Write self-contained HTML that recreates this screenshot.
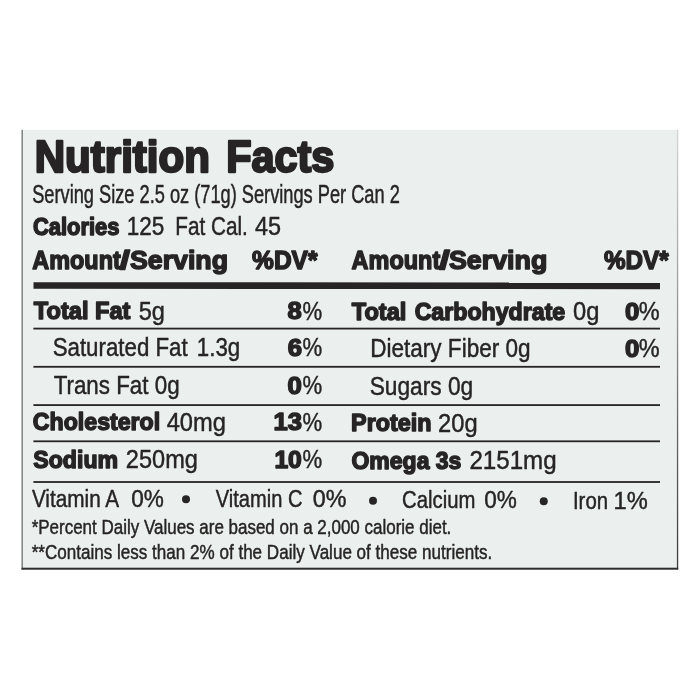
<!DOCTYPE html>
<html lang="en">
<head>
<meta charset="utf-8">
<title>Nutrition Facts</title>
<style>
html,body{margin:0;padding:0;background:#fff;}
body{width:700px;height:700px;overflow:hidden;position:relative;}
svg{position:absolute;left:0;top:0;display:block;}
text{font-family:"Liberation Sans",Arial,Helvetica,sans-serif;fill:#262424;stroke:#262424;stroke-linejoin:round;}
.b{font-weight:bold;}
</style>
</head>
<body>
<svg width="700" height="700" viewBox="0 0 700 700">
<defs><linearGradient id="rb" x1="0" y1="0" x2="0" y2="1"><stop offset="0" stop-color="#d2d5d3"/><stop offset="0.3" stop-color="#a6a8a7"/><stop offset="0.65" stop-color="#6a6a6a"/><stop offset="1" stop-color="#3a3939"/></linearGradient></defs>
<rect x="21.5" y="129.8" width="656.7" height="439.6" fill="#ebefed"/>
<rect x="21.5" y="129.8" width="1.4" height="439.6" fill="#7c7e7d"/>
<rect x="676.9" y="129.8" width="1.3" height="439.6" fill="url(#rb)"/>
<rect x="21.5" y="567.7" width="656.7" height="2" fill="#302e2e"/>
<polygon points="33.5,282.2 660,282.5 660,289.2 33.5,288.8" fill="#262424"/>
<rect x="33.4" y="327.70" width="626.6" height="1.8" fill="#262424"/>
<rect x="33.4" y="365.90" width="626.6" height="1.8" fill="#262424"/>
<rect x="33.4" y="404.20" width="626.6" height="1.8" fill="#262424"/>
<rect x="33.4" y="440.40" width="626.6" height="1.8" fill="#262424"/>
<rect x="33.4" y="481.10" width="626.6" height="1.8" fill="#262424"/>
<circle cx="186.00" cy="499.20" r="4" fill="#262424"/>
<circle cx="373.00" cy="500.70" r="4" fill="#262424"/>
<circle cx="543.75" cy="501.20" r="4" fill="#262424"/>
<text class="b" x="34.75" y="172.40" font-size="44.91" textLength="175.11" lengthAdjust="spacingAndGlyphs" stroke-width="2.40">Nutrition</text>
<text class="b" x="226.13" y="172.40" font-size="44.91" textLength="108.22" lengthAdjust="spacingAndGlyphs" stroke-width="2.40">Facts</text>
<text x="32.21" y="202.68" font-size="24.93" textLength="367.60" lengthAdjust="spacingAndGlyphs" stroke-width="0.45">Serving Size 2.5 oz (71g) Servings Per Can 2</text>
<text class="b" x="32.96" y="234.85" font-size="24.27" textLength="86.55" lengthAdjust="spacingAndGlyphs" stroke-width="1.50">Calories</text>
<text x="126.67" y="235.38" font-size="25.80" textLength="37.54" lengthAdjust="spacingAndGlyphs" stroke-width="0.45">125</text>
<text x="175.29" y="235.38" font-size="25.80" textLength="72.58" lengthAdjust="spacingAndGlyphs" stroke-width="0.45">Fat Cal.</text>
<text x="254.98" y="235.38" font-size="25.80" textLength="26.08" lengthAdjust="spacingAndGlyphs" stroke-width="0.45">45</text>
<text class="b" x="32.31" y="268.55" font-size="26.31" textLength="88.46" lengthAdjust="spacingAndGlyphs" stroke-width="1.50">Amount</text>
<text class="b" x="119.72" y="268.55" font-size="26.31" textLength="10.13" lengthAdjust="spacingAndGlyphs" stroke-width="1.50">/</text>
<text class="b" x="129.96" y="268.55" font-size="26.31" textLength="98.08" lengthAdjust="spacingAndGlyphs" stroke-width="1.50">Serving</text>
<text class="b" x="252.06" y="268.55" font-size="26.31" textLength="65.50" lengthAdjust="spacingAndGlyphs" stroke-width="1.50">%DV*</text>
<text class="b" x="351.61" y="269.15" font-size="26.31" textLength="88.65" lengthAdjust="spacingAndGlyphs" stroke-width="1.50">Amount</text>
<text class="b" x="439.33" y="269.15" font-size="26.31" textLength="10.50" lengthAdjust="spacingAndGlyphs" stroke-width="1.50">/</text>
<text class="b" x="448.97" y="269.15" font-size="26.31" textLength="98.34" lengthAdjust="spacingAndGlyphs" stroke-width="1.50">Serving</text>
<text class="b" x="603.89" y="269.45" font-size="26.31" textLength="64.81" lengthAdjust="spacingAndGlyphs" stroke-width="1.50">%DV*</text>
<text class="b" x="33.78" y="319.15" font-size="24.71" textLength="96.69" lengthAdjust="spacingAndGlyphs" stroke-width="1.50">Total Fat</text>
<text x="138.73" y="319.67" font-size="26.24" textLength="26.20" lengthAdjust="spacingAndGlyphs" stroke-width="0.45">5g</text>
<text class="b" x="287.64" y="319.15" font-size="24.71" textLength="14.23" lengthAdjust="spacingAndGlyphs" stroke-width="1.50">8</text>
<text x="302.38" y="319.67" font-size="26.24" textLength="19.70" lengthAdjust="spacingAndGlyphs" stroke-width="0.45">%</text>
<text x="52.69" y="356.47" font-size="26.24" textLength="134.95" lengthAdjust="spacingAndGlyphs" stroke-width="0.45">Saturated Fat</text>
<text x="196.78" y="356.47" font-size="26.24" textLength="43.43" lengthAdjust="spacingAndGlyphs" stroke-width="0.45">1.3g</text>
<text class="b" x="287.71" y="355.95" font-size="24.71" textLength="14.34" lengthAdjust="spacingAndGlyphs" stroke-width="1.50">6</text>
<text x="302.38" y="356.47" font-size="26.24" textLength="19.70" lengthAdjust="spacingAndGlyphs" stroke-width="0.45">%</text>
<text x="53.66" y="394.27" font-size="26.24" textLength="125.96" lengthAdjust="spacingAndGlyphs" stroke-width="0.45">Trans Fat 0g</text>
<text class="b" x="287.60" y="393.75" font-size="24.71" textLength="14.33" lengthAdjust="spacingAndGlyphs" stroke-width="1.50">0</text>
<text x="302.38" y="394.27" font-size="26.24" textLength="19.70" lengthAdjust="spacingAndGlyphs" stroke-width="0.45">%</text>
<text class="b" x="32.86" y="430.25" font-size="24.71" textLength="127.31" lengthAdjust="spacingAndGlyphs" stroke-width="1.50">Cholesterol</text>
<text x="166.63" y="430.77" font-size="26.24" textLength="59.23" lengthAdjust="spacingAndGlyphs" stroke-width="0.45">40mg</text>
<text class="b" x="273.61" y="430.25" font-size="24.71" textLength="28.46" lengthAdjust="spacingAndGlyphs" stroke-width="1.50">13</text>
<text x="302.38" y="430.77" font-size="26.24" textLength="19.70" lengthAdjust="spacingAndGlyphs" stroke-width="0.45">%</text>
<text class="b" x="33.33" y="467.55" font-size="24.71" textLength="84.71" lengthAdjust="spacingAndGlyphs" stroke-width="1.50">Sodium</text>
<text x="125.86" y="468.07" font-size="26.24" textLength="72.01" lengthAdjust="spacingAndGlyphs" stroke-width="0.45">250mg</text>
<text class="b" x="274.40" y="467.55" font-size="24.71" textLength="27.43" lengthAdjust="spacingAndGlyphs" stroke-width="1.50">10</text>
<text x="302.38" y="468.07" font-size="26.24" textLength="19.70" lengthAdjust="spacingAndGlyphs" stroke-width="0.45">%</text>
<text class="b" x="351.80" y="319.95" font-size="24.71" textLength="54.63" lengthAdjust="spacingAndGlyphs" stroke-width="1.50">Total</text>
<text class="b" x="414.63" y="319.95" font-size="24.71" textLength="150.62" lengthAdjust="spacingAndGlyphs" stroke-width="1.50">Carbohydrate</text>
<text x="573.02" y="320.47" font-size="26.24" textLength="26.33" lengthAdjust="spacingAndGlyphs" stroke-width="0.45">0g</text>
<text class="b" x="624.93" y="319.95" font-size="24.71" textLength="14.37" lengthAdjust="spacingAndGlyphs" stroke-width="1.50">0</text>
<text x="638.84" y="320.47" font-size="26.24" textLength="20.88" lengthAdjust="spacingAndGlyphs" stroke-width="0.45">%</text>
<text x="370.20" y="357.47" font-size="26.24" textLength="160.41" lengthAdjust="spacingAndGlyphs" stroke-width="0.45">Dietary Fiber 0g</text>
<text class="b" x="624.93" y="356.95" font-size="24.71" textLength="14.37" lengthAdjust="spacingAndGlyphs" stroke-width="1.50">0</text>
<text x="638.84" y="357.47" font-size="26.24" textLength="20.88" lengthAdjust="spacingAndGlyphs" stroke-width="0.45">%</text>
<text x="369.67" y="395.07" font-size="26.24" textLength="103.60" lengthAdjust="spacingAndGlyphs" stroke-width="0.45">Sugars 0g</text>
<text class="b" x="351.09" y="431.25" font-size="24.71" textLength="80.37" lengthAdjust="spacingAndGlyphs" stroke-width="1.50">Protein</text>
<text x="438.05" y="431.77" font-size="26.24" textLength="39.55" lengthAdjust="spacingAndGlyphs" stroke-width="0.45">20g</text>
<text class="b" x="351.49" y="468.85" font-size="24.71" textLength="109.92" lengthAdjust="spacingAndGlyphs" stroke-width="1.50">Omega 3s</text>
<text x="469.42" y="469.38" font-size="26.24" textLength="87.20" lengthAdjust="spacingAndGlyphs" stroke-width="0.45">2151mg</text>
<text x="31.90" y="507.17" font-size="24.06" textLength="87.31" lengthAdjust="spacingAndGlyphs" stroke-width="0.45">Vitamin A</text>
<text x="131.17" y="507.17" font-size="24.06" textLength="32.60" lengthAdjust="spacingAndGlyphs" stroke-width="0.45">0%</text>
<text x="215.73" y="507.47" font-size="24.06" textLength="86.71" lengthAdjust="spacingAndGlyphs" stroke-width="0.45">Vitamin C</text>
<text x="312.73" y="507.47" font-size="24.06" textLength="33.69" lengthAdjust="spacingAndGlyphs" stroke-width="0.45">0%</text>
<text x="402.12" y="507.97" font-size="24.06" textLength="73.25" lengthAdjust="spacingAndGlyphs" stroke-width="0.45">Calcium</text>
<text x="484.17" y="507.97" font-size="24.06" textLength="32.60" lengthAdjust="spacingAndGlyphs" stroke-width="0.45">0%</text>
<text x="572.96" y="508.77" font-size="24.06" textLength="35.09" lengthAdjust="spacingAndGlyphs" stroke-width="0.45">Iron</text>
<text x="613.57" y="508.77" font-size="24.06" textLength="34.20" lengthAdjust="spacingAndGlyphs" stroke-width="0.45">1%</text>
<text x="31.63" y="534.38" font-size="19.69" textLength="419.70" lengthAdjust="spacingAndGlyphs" stroke-width="0.45">*Percent Daily Values are based on a 2,000 calorie diet.</text>
<text x="31.63" y="558.77" font-size="19.69" textLength="460.64" lengthAdjust="spacingAndGlyphs" stroke-width="0.45">**Contains less than 2% of the Daily Value of these nutrients.</text>
</svg>
</body>
</html>
